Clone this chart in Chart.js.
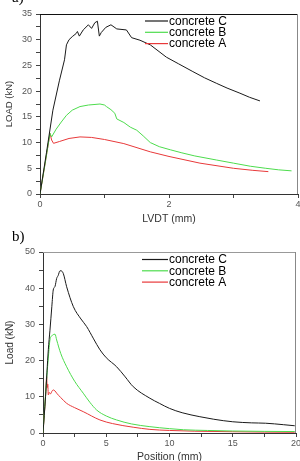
<!DOCTYPE html>
<html lang="en">
<head>
  <meta charset="UTF-8">
  <title>Load curves</title>
  <style>
    body {
      margin: 0;
      width: 300px;
      height: 461px;
      overflow: hidden;
      background: #fff;
      position: relative;
    }
    canvas {
      position: absolute;
      left: 0;
    }
    #chartA { top: 0; }
    #chartB { top: 230px; }
    .tag {
      position: absolute;
      font-family: 'Liberation Serif', 'Times New Roman', serif;
      font-size: 15px;
      line-height: 15px;
      color: #000;
    }
  </style>
  <script src="https://cdn.jsdelivr.net/npm/chart.js"></script>
</head>
<body>
  <canvas id="chartA" width="300" height="230"></canvas>
  <canvas id="chartB" width="300" height="231"></canvas>
  <div class="tag" style="left:12px; top:-10px">a)</div>
  <div class="tag" style="left:12px; top:229px">b)</div>

  <script>
    const seriesNames = ['concrete C', 'concrete B', 'concrete A'];
    const seriesColors = ['#1a1a1a', '#4ddc4d', '#e8393a'];

    // a) load vs LVDT displacement
    const lvdtC = [0, 0.1, 0.2, 0.3, 0.38, 0.41, 0.45, 0.5, 0.56, 0.58, 0.61, 0.67, 0.75, 0.8, 0.85, 0.89, 0.92, 0.95, 1.02, 1.1, 1.19, 1.34, 1.42, 1.55, 1.71, 1.96, 2.15, 2.37, 2.55, 2.74, 2.9, 3.1, 3.25, 3.41];
    const loadC = [0, 8, 16.3, 22, 26.1, 29, 30, 30.6, 31.2, 31.6, 30.7, 31.9, 32.9, 32.2, 33.3, 33.6, 30.7, 31.4, 32.4, 32.9, 32.1, 31.9, 30.4, 29.9, 29.0, 26.6, 25.3, 23.8, 22.6, 21.5, 20.6, 19.6, 18.8, 18.1];
    const lvdtB = [0, 0.08, 0.155, 0.18, 0.25, 0.33, 0.41, 0.5, 0.62, 0.75, 0.93, 1.0, 1.03, 1.1, 1.16, 1.19, 1.3, 1.4, 1.5, 1.6, 1.71, 1.85, 2.02, 2.2, 2.4, 2.74, 3.0, 3.26, 3.5, 3.7, 3.9];
    const loadB = [0, 6, 11.8, 11.1, 12.6, 14.0, 15.3, 16.3, 17.0, 17.3, 17.5, 17.3, 17.0, 16.4, 15.7, 14.6, 13.9, 13.0, 12.4, 11.3, 10.0, 9.2, 8.6, 8.0, 7.4, 6.6, 6.0, 5.4, 5.0, 4.7, 4.5];
    const lvdtA = [0, 0.08, 0.155, 0.18, 0.21, 0.3, 0.45, 0.62, 0.8, 1.0, 1.3, 1.71, 2.0, 2.48, 3.0, 3.3, 3.54];
    const loadA = [0, 6, 11.8, 10.5, 9.85, 10.2, 10.8, 11.1, 11.0, 10.6, 9.8, 8.2, 7.3, 6.0, 5.0, 4.6, 4.35];

    // b) load vs position
    const posC = [0, 0.2, 0.42, 0.55, 0.7, 0.81, 0.95, 1.08, 1.2, 1.34, 1.42, 1.6, 1.87, 2.4, 3.0, 3.45, 4.0, 4.5, 5.0, 5.82, 6.5, 7.13, 8.45, 9.2, 10.0, 11.0, 12.4, 13.5, 15.0, 16.5, 17.6, 19.0, 19.9];
    const forceC = [0, 10, 23, 28.4, 35, 39.5, 40.5, 42.7, 43.5, 44.8, 44.8, 44.1, 40.4, 34.9, 31.5, 29.4, 26, 23, 20.8, 18.3, 15.5, 12.8, 9.6, 8.2, 6.8, 5.6, 4.5, 3.8, 3.1, 2.8, 2.7, 2.3, 2.0];
    const posB = [0, 0.15, 0.3, 0.45, 0.55, 0.75, 0.95, 1.08, 1.4, 1.87, 2.5, 3.18, 3.7, 4.24, 5.0, 5.82, 7.0, 8.45, 10.0, 11.1, 13.0, 15.0, 17.5, 19.9];
    const forceB = [0, 8, 15.5, 22, 25.7, 27, 27.3, 25.7, 22.0, 18.3, 14.3, 11.0, 8.5, 6.35, 4.7, 3.6, 2.5, 1.75, 1.2, 0.9, 0.7, 0.55, 0.45, 0.4];
    const posA = [0, 0.1, 0.2, 0.29, 0.33, 0.38, 0.42, 0.5, 0.6, 0.7, 0.81, 0.95, 1.08, 1.4, 1.87, 2.5, 3.18, 4.5, 5.5, 7.13, 8.45, 10, 12, 15, 17.5, 19.9];
    const forceA = [0, 5, 10, 15.6, 12.5, 13.5, 10.5, 11.2, 10.8, 11.5, 11.9, 11.6, 11.0, 9.8, 8.2, 7.0, 5.9, 3.6, 2.6, 1.6, 1.0, 0.7, 0.5, 0.35, 0.25, 0.2];

    const pts = (xs, ys) => xs.map((x, i) => ({ x: x, y: ys[i] }));

    function makeSets(groups, tension) {
      return groups.map((g, i) => ({
        label: seriesNames[i],
        data: pts(g[0], g[1]),
        borderColor: seriesColors[i],
        borderWidth: 1,
        pointRadius: 0,
        tension: tension,
        cubicInterpolationMode: tension ? 'monotone' : 'default',
        fill: false
      }));
    }

    // legend drawn as a short line followed by the name
    const lineLegend = {
      id: 'lineLegend',
      afterDraw(chart, args, opts) {
        const ctx = chart.ctx;
        ctx.save();
        ctx.font = '12px "Liberation Sans", Arial, sans-serif';
        ctx.textBaseline = 'middle';
        chart.data.datasets.forEach((ds, i) => {
          const y = opts.y + i * opts.gap;
          ctx.strokeStyle = ds.borderColor;
          ctx.lineWidth = 1.2;
          ctx.beginPath();
          ctx.moveTo(opts.x0, y);
          ctx.lineTo(opts.x1, y);
          ctx.stroke();
          ctx.fillStyle = '#000';
          ctx.fillText(ds.label, opts.x1 + 1, y + 0.5);
        });
        ctx.restore();
      }
    };

    // top and right frame lines
    const frame = {
      id: 'frame',
      afterDraw(chart, args, opts) {
        const { left, right, top, bottom } = chart.chartArea;
        const ctx = chart.ctx;
        ctx.save();
        ctx.lineWidth = 1;
        ctx.strokeStyle = opts.topColor;
        ctx.beginPath();
        ctx.moveTo(left, top + 0.5);
        ctx.lineTo(right, top + 0.5);
        ctx.stroke();
        ctx.strokeStyle = opts.rightColor;
        ctx.beginPath();
        ctx.moveTo(right - 0.5, top);
        ctx.lineTo(right - 0.5, bottom);
        ctx.stroke();
        ctx.restore();
      }
    };

    function axis(cfg) {
      const horizontal = cfg.horizontal;
      return {
        type: 'linear',
        min: cfg.min,
        max: cfg.max,
        border: { display: true, color: '#333', width: 1 },
        grid: { drawOnChartArea: false, drawTicks: true, tickLength: 4, color: '#444' },
        ticks: {
          stepSize: cfg.step,
          autoSkip: false,
          maxRotation: 0,
          padding: horizontal ? 1 : 4,
          color: '#555',
          font: { family: '"Liberation Sans", Arial, sans-serif', size: 9 },
          callback: (v) => (v % cfg.labelEvery === 0 ? v : '')
        },
        title: {
          display: true,
          text: cfg.title,
          color: '#333',
          padding: cfg.titlePad,
          font: { family: '"Liberation Sans", Arial, sans-serif', size: cfg.titleSize }
        },
        afterFit: (s) => {
          if (horizontal) {
            s.height = cfg.size;
            s.paddingLeft = 0;
            s.paddingRight = 0;
          } else {
            s.width = cfg.size;
            s.paddingTop = 0;
            s.paddingBottom = 0;
          }
        }
      };
    }

    // Chart a)
    new Chart(document.getElementById('chartA'), {
      type: 'line',
      data: {
        datasets: makeSets([[lvdtC, loadC], [lvdtB, loadB], [lvdtA, loadA]], 0)
      },
      options: {
        responsive: false,
        animation: false,
        layout: { padding: { top: 14, right: 2, left: 0, bottom: 0 } },
        scales: {
          x: axis({ horizontal: true, min: 0, max: 4, step: 1, labelEvery: 2, title: 'LVDT (mm)', titleSize: 10.5, titlePad: { top: 0, bottom: 5 }, size: 36 }),
          y: axis({ horizontal: false, min: 0, max: 35, step: 2.5, labelEvery: 5, title: 'LOAD (kN)', titleSize: 9.5, titlePad: { top: 4, bottom: 0 }, size: 40 })
        },
        plugins: {
          legend: { display: false },
          tooltip: { enabled: false },
          lineLegend: { x0: 145, x1: 168, y: 21, gap: 11.3 },
          frame: { topColor: '#111', rightColor: '#888' }
        }
      },
      plugins: [lineLegend, frame]
    });

    // Chart b)
    new Chart(document.getElementById('chartB'), {
      type: 'line',
      data: {
        datasets: makeSets([[posC, forceC], [posB, forceB], [posA, forceA]], 0.4)
      },
      options: {
        responsive: false,
        animation: false,
        layout: { padding: { top: 22, right: 4, left: 0, bottom: 0 } },
        scales: {
          x: axis({ horizontal: true, min: 0, max: 20, step: 2.5, labelEvery: 5, title: 'Position (mm)', titleSize: 10.5, titlePad: { top: 0, bottom: -2 }, size: 28 }),
          y: axis({ horizontal: false, min: 0, max: 50, step: 5, labelEvery: 10, title: 'Load (kN)', titleSize: 10, titlePad: { top: 4, bottom: 0 }, size: 43 })
        },
        plugins: {
          legend: { display: false },
          tooltip: { enabled: false },
          lineLegend: { x0: 142, x1: 168, y: 29.5, gap: 11.3 },
          frame: { topColor: '#999', rightColor: '#888' }
        }
      },
      plugins: [lineLegend, frame]
    });
  </script>
</body>
</html>
